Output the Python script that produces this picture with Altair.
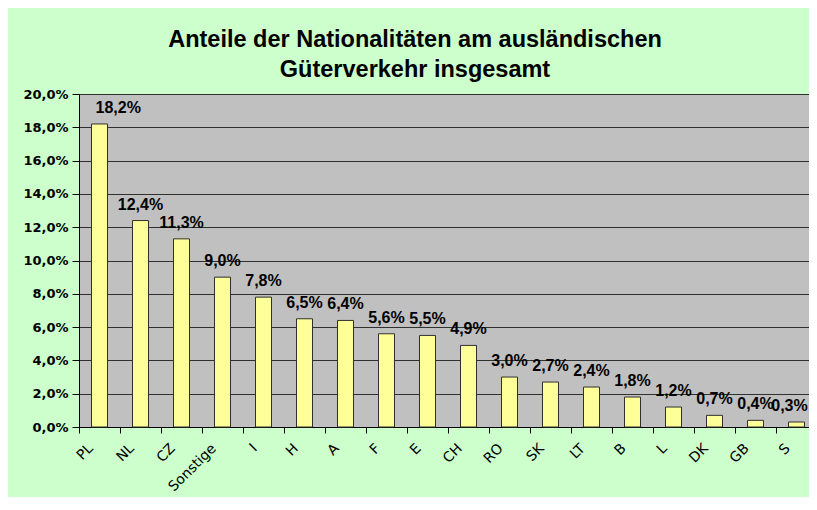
import altair as alt
import pandas as pd

categories = ["PL", "NL", "CZ", "Sonstige", "I", "H", "A", "F", "E", "CH",
              "RO", "SK", "LT", "B", "L", "DK", "GB", "S"]
shares_pct = [18.2, 12.4, 11.3, 9.0, 7.8, 6.5, 6.4, 5.6, 5.5, 4.9,
              3.0, 2.7, 2.4, 1.8, 1.2, 0.7, 0.4, 0.3]
y_ticks = [0, 0.02, 0.04, 0.06, 0.08, 0.10, 0.12, 0.14, 0.16, 0.18, 0.20]

df = pd.DataFrame({"cat": categories, "share": [v / 100 for v in shares_pct]})

x = alt.X("cat:N", sort=categories, title=None,
          scale=alt.Scale(paddingInner=0, paddingOuter=0, range=[0, 738]),
          axis=alt.Axis(labelAngle=-45, labelAlign="right", labelBaseline="middle",
                        labelPadding=13, labelOffset=-9, labelFont="DejaVu Sans",
                        labelFontSize=14, labelColor="black", tickBand="extent",
                        tickSize=6, tickColor="black", domainColor="black", grid=False))
y = alt.Y("share:Q", title=None,
          scale=alt.Scale(domain=[0, 0.2], nice=False),
          axis=alt.Axis(values=y_ticks,
                        labelExpr="replace(format(datum.value, '.1%'), '.', ',')",
                        labelFont="DejaVu Sans", labelFontWeight="bold", labelFontSize=13,
                        labelColor="black", labelPadding=4, tickSize=7, tickColor="black",
                        domainColor="black", grid=True, gridColor="#303030",
                        gridWidth=1, gridOpacity=1))

base = alt.Chart(df).transform_calculate(
    label="replace(format(datum.share, '.1%'), '.', ',')"
)

bars = base.mark_bar(fill="#FFFF99", stroke="#303030", strokeWidth=1, size=16).encode(x=x, y=y)

label_style = dict(font="Liberation Sans", fontWeight="bold", fontSize=16,
                   color="black", baseline="alphabetic", dy=-11)
labels = base.transform_filter("datum.cat != 'PL' && datum.cat != 'S'").mark_text(
    align="center", **label_style).encode(x=x, y=y, text="label:N")
label_first = base.transform_filter("datum.cat == 'PL'").mark_text(
    align="left", dx=-4, **label_style).encode(x=x, y=y, text="label:N")
label_last = base.transform_filter("datum.cat == 'S'").mark_text(
    align="center", dx=-7, **label_style).encode(x=x, y=y, text="label:N")

chart = alt.layer(bars, labels, label_first, label_last).properties(
    width=730, height=333,
    title=alt.Title(["Anteile der Nationalitäten am ausländischen", "Güterverkehr insgesamt"],
                    font="Liberation Sans", fontSize=23.5, fontWeight="bold",
                    color="black", anchor="middle", frame="group", dx=-29,
                    offset=7, lineHeight=30),
    background="#CCFFCC",
    autosize=alt.AutoSizeParams(type="none"),
    padding={"left": 71, "top": 86, "right": 0, "bottom": 70},
).configure_view(fill="#C0C0C0", stroke="#808080", strokeWidth=1)

chart.save("out.html", embed_options={"renderer": "svg", "actions": False})
